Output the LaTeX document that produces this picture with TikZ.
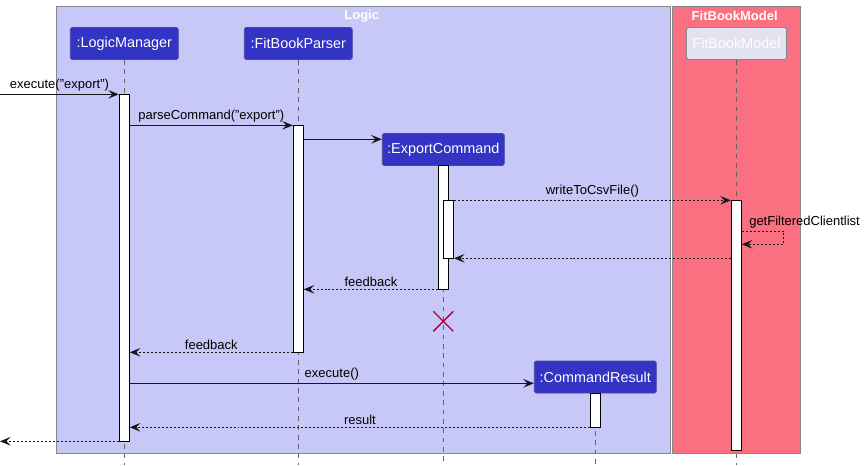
\documentclass[tikz,border=0pt]{standalone}
\usepackage{fontspec}
\setmainfont{Liberation Sans}
\usetikzlibrary{arrows.meta}

\begin{document}
\begin{tikzpicture}[x=0.03cm, y=-0.03cm, font=\fontsize{11.1}{13}\selectfont,
  part/.style={draw=partline, fill=partblue, text=white, rounded corners=1.5pt, minimum height=0.96cm, inner sep=0pt, line width=0.7pt, font=\fontsize{12.3}{14}\selectfont},
  bar/.style={draw=black, fill=white, minimum width=0.3cm, inner sep=0pt, line width=0.8pt},
  life/.style={draw=lifegray, dash pattern=on 4pt off 4pt, line width=0.75pt},
  call/.style={draw=msgline, line width=0.8pt, -{Stealth[length=0.32cm, width=0.26cm, inset=0.13cm]}},
  reply/.style={call, dash pattern=on 1.7pt off 1.7pt},
  lbl/.style={midway, above, inner sep=2pt},
  grouptitle/.style={text=white, font=\fontsize{11.1}{13}\selectfont\bfseries},
  groupbox/.style={draw=groupline, line width=0.8pt}]
\definecolor{logicbg}{RGB}{200,200,248}
\definecolor{modelbg}{RGB}{250,112,128}
\definecolor{partblue}{RGB}{51,51,196}
\definecolor{partline}{RGB}{72,72,160}
\definecolor{fmfill}{RGB}{226,226,240}
\definecolor{groupline}{RGB}{136,136,146}
\definecolor{lifegray}{RGB}{100,100,100}
\definecolor{msgline}{RGB}{24,24,24}
\definecolor{killred}{RGB}{168,0,54}
\useasboundingbox (0,0) rectangle (865,465);

% boxes
\draw[groupbox, fill=logicbg] (56.7,6) rectangle (670.7,453.3);
\draw[groupbox, fill=modelbg] (672.3,6) rectangle (800.3,453.3);
\node[grouptitle] (tLogic) at (361.7,15.7) {Logic};
\node[grouptitle] (tModel) at (734.7,15.7) {FitBookModel};

% participants
\node[part, minimum width=3.24cm] (lm) at (124.3,43.5) {:LogicManager};
\node[part, minimum width=3.24cm] (ps) at (298.3,43.5) {:FitBookParser};
\node[part, minimum width=3.66cm] (ec) at (443.3,149.5) {:ExportCommand};
\node[part, minimum width=3.0cm, fill=fmfill, draw=groupline] (fm) at (736.5,43.5) {FitBookModel};
\node[part, minimum width=3.66cm] (cr) at (595.3,377) {:CommandResult};

\foreach \n in {lm,ps,ec,fm,cr}
  \draw[life] (\n.south) -- (\n.south |- 0,465);

% activations
\node[bar, minimum height=10.41cm] (aLM) at (124.3,267.8) {};
\node[bar, minimum height=6.81cm] (aPS) at (298.3,238.8) {};
\node[bar, minimum height=3.71cm] (aEC) at (443.5,227.5) {};
\node[bar, minimum height=1.74cm] (aEC2) at (448.5,229.3) {};
\node[bar, minimum height=7.49cm] (aFM) at (736.3,325.2) {};
\node[bar, minimum height=1.03cm] (aCR) at (595.5,410.2) {};

% message rows
\foreach \r/\y in {r1/94.3, r2/125.3, r3/139.3, r4/200.3, r5/231, r6/244.3, r7/258.3,
                   r8/289.3, r9/321.3, r10/352.3, r11/383.3, r12/427.3, r13/441.3}
  \coordinate (\r) at (0,\y);

\draw[call] (r1) -- node[lbl] {execute("export")} (aLM.west |- r1);
\draw[call] (aLM.east |- r2) -- node[lbl] {parseCommand("export")} (aPS.west |- r2);
\draw[call] (aPS.east |- r3) -- (ec.west |- r3);
\draw[reply] (aEC2.east |- r4) -- node[lbl] {writeToCsvFile()} (aFM.west |- r4);
\draw[reply] (aFM.east |- r5) -- node[pos=0, anchor=south west, inner sep=2pt, xshift=4pt] {getFilteredClientlist} ++(42,0) -- ++(0,13.3) -- (aFM.east |- r6);
\draw[reply] (aFM.west |- r7) -- (aEC2.east |- r7);
\draw[reply] (aEC.west |- r8) -- node[lbl] {feedback} (aPS.east |- r8);

% destroy
\coordinate (kill) at (ec |- r9);
\draw[draw=killred, line width=1.1pt] (kill) ++(-10,-10) -- ++(20,20) ++(-20,0) -- ++(20,-20);

\draw[reply] (aPS.west |- r10) -- node[lbl] {feedback} (aLM.east |- r10);
\draw[call] (aLM.east |- r11) -- node[lbl] {execute()} (cr.west |- r11);
\draw[reply] (aCR.west |- r12) -- node[lbl] {result} (aLM.east |- r12);
\draw[reply] (aLM.west |- r13) -- (r13);
\end{tikzpicture}
\end{document}
